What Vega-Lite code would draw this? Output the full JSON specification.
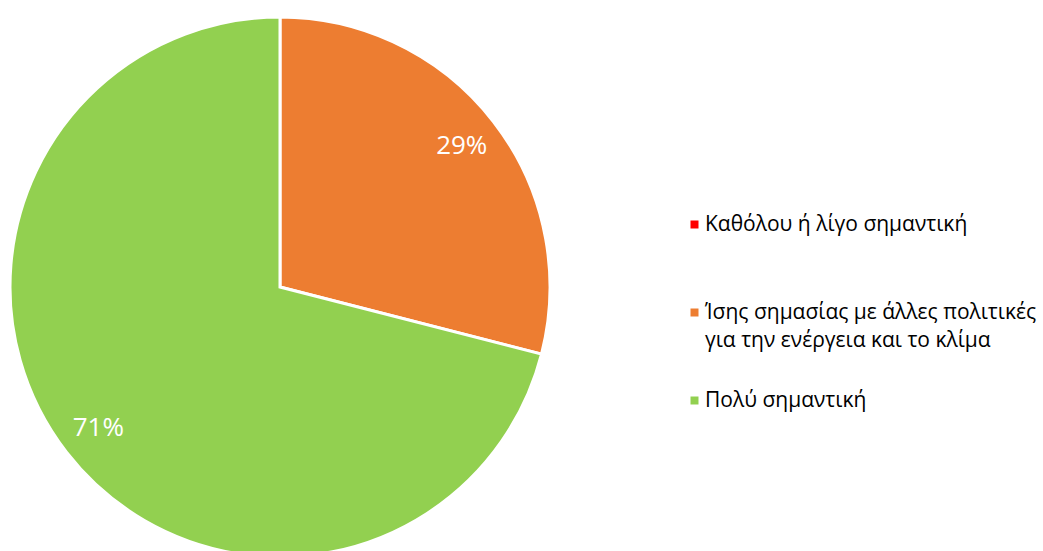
{
  "$schema": "https://vega.github.io/schema/vega-lite/v6.json",
  "width": 560,
  "height": 574,
  "padding": 0,
  "autosize": {"type": "pad"},
  "background": "white",
  "config": {"view": {"stroke": null}, "font": "Open Sans", "style": {"guide-label": {"lineHeight": 28}}},
  "data": {
    "values": [
      {"category": "Καθόλου ή λίγο σημαντική", "value": 0, "label": "0%", "order": 1},
      {"category": "Ίσης σημασίας με άλλες πολιτικές για την ενέργεια και το κλίμα", "value": 29, "label": "29%", "order": 2},
      {"category": "Πολύ σημαντική", "value": 71, "label": "71%", "order": 3}
    ]
  },
  "encoding": {
    "theta": {"field": "value", "type": "quantitative", "stack": true},
    "order": {"field": "order", "type": "quantitative"}
  },
  "layer": [
    {
      "mark": {"type": "arc", "radius": 270, "stroke": "white", "strokeWidth": 3},
      "encoding": {
        "color": {
          "field": "category",
          "type": "nominal",
          "sort": ["Καθόλου ή λίγο σημαντική", "Ίσης σημασίας με άλλες πολιτικές για την ενέργεια και το κλίμα", "Πολύ σημαντική"],
          "scale": {
            "domain": ["Καθόλου ή λίγο σημαντική", "Ίσης σημασίας με άλλες πολιτικές για την ενέργεια και το κλίμα", "Πολύ σημαντική"],
            "range": ["#FF0000", "#ED7D31", "#92D050"]
          },
          "legend": {
            "title": null,
            "orient": "none",
            "legendX": 684,
            "legendY": 214,
            "gridAlign": "all",
            "symbolType": "square",
            "symbolSize": 64,
            "symbolStrokeWidth": 0,
            "labelFontSize": 21,
            "labelColor": "#000000",
            "labelLimit": 400,
            "labelOffset": 0,
            "rowPadding": 38,
            "labelExpr": "datum.label == 'Ίσης σημασίας με άλλες πολιτικές για την ενέργεια και το κλίμα' ? ['Ίσης σημασίας με άλλες πολιτικές', 'για την ενέργεια και το κλίμα'] : datum.label"
          }
        }
      }
    },
    {
      "transform": [{"filter": "datum.value > 0"}],
      "mark": {"type": "text", "radius": 230, "fontSize": 26, "color": "white"},
      "encoding": {
        "text": {"field": "label", "type": "nominal"}
      }
    }
  ]
}
